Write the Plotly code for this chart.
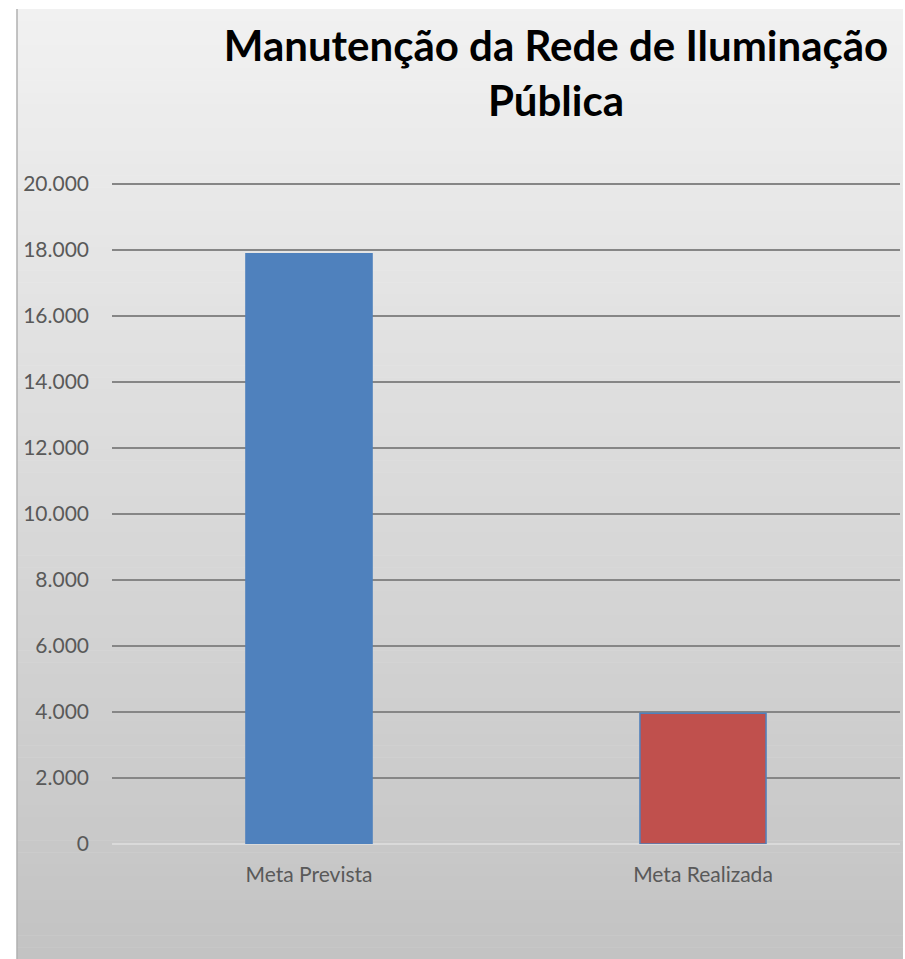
import plotly.graph_objects as go

categories = ["Meta Prevista", "Meta Realizada"]
values = [17880, 3960]
bar_colors = ["#4f81bd", "#c0504d"]
y_ticks = [0, 2000, 4000, 6000, 8000, 10000, 12000, 14000, 16000, 18000, 20000]

W, H = 905, 959
L, R, T, B = 112, 5, 174, 115
plot_w = W - L - R
plot_h = H - T - B


def px_x(px):
    return (px - L) / plot_w


def px_y(py):
    return (H - B - py) / plot_h


# vertical grey gradient for the chart box, drawn as thin strips
box_left, box_right, box_top, box_bottom = 17, 903, 9, 959
n_strips = 80
top_rgb = (241, 241, 241)
bot_rgb = (195, 195, 195)
shapes = []
step = (box_bottom - box_top) / n_strips
for i in range(n_strips):
    t = i / (n_strips - 1)
    c = [round(a + (b - a) * t) for a, b in zip(top_rgb, bot_rgb)]
    y0 = box_top + i * step
    shapes.append(dict(
        type="rect", xref="paper", yref="paper", layer="below",
        x0=px_x(box_left), x1=px_x(box_right),
        y0=px_y(y0 + step + 0.5), y1=px_y(y0),
        line=dict(width=0), fillcolor=f"rgb({c[0]},{c[1]},{c[2]})",
    ))
shapes.append(dict(
    type="line", xref="paper", yref="paper", layer="below",
    x0=px_x(box_left), x1=px_x(box_left),
    y0=px_y(box_bottom), y1=px_y(box_top),
    line=dict(color="#b0b0b0", width=1.5),
))

fig = go.Figure(go.Bar(
    x=categories,
    y=values,
    marker=dict(color=bar_colors, line=dict(color="#4f81bd", width=1.5)),
    width=0.32,
))

fig.update_layout(
    width=W, height=H,
    margin=dict(l=L, r=R, t=T, b=B),
    paper_bgcolor="white",
    plot_bgcolor="rgba(0,0,0,0)",
    separators=",.",
    showlegend=False,
    shapes=shapes,
    font=dict(family="Lato", color="#595959"),
    title=dict(
        text="<b>Manutenção da Rede de Iluminação<br>Pública</b>",
        x=556 / W, xanchor="center",
        y=1 - 61 / H, yanchor="middle",
        font=dict(family="Lato", size=42, color="black"),
    ),
)

fig.update_xaxes(
    showgrid=False, showline=False, zeroline=False,
    tickfont=dict(size=21), ticks="outside", ticklen=12, tickcolor="rgba(0,0,0,0)",
)
fig.update_yaxes(
    range=[0, 20300], tickvals=y_ticks, tickformat=",.0f",
    showgrid=True, gridcolor="#868686", gridwidth=1.5,
    zeroline=True, zerolinecolor="#dadada", zerolinewidth=2,
    showline=False, tickfont=dict(size=21), ticklabelstandoff=22,
)

# the page body has an 8px default margin; drop it so the figure sits at 0,0
fig.write_html(
    "out.html",
    config={"displayModeBar": False},
    post_script="document.body.style.margin='0';",
)
